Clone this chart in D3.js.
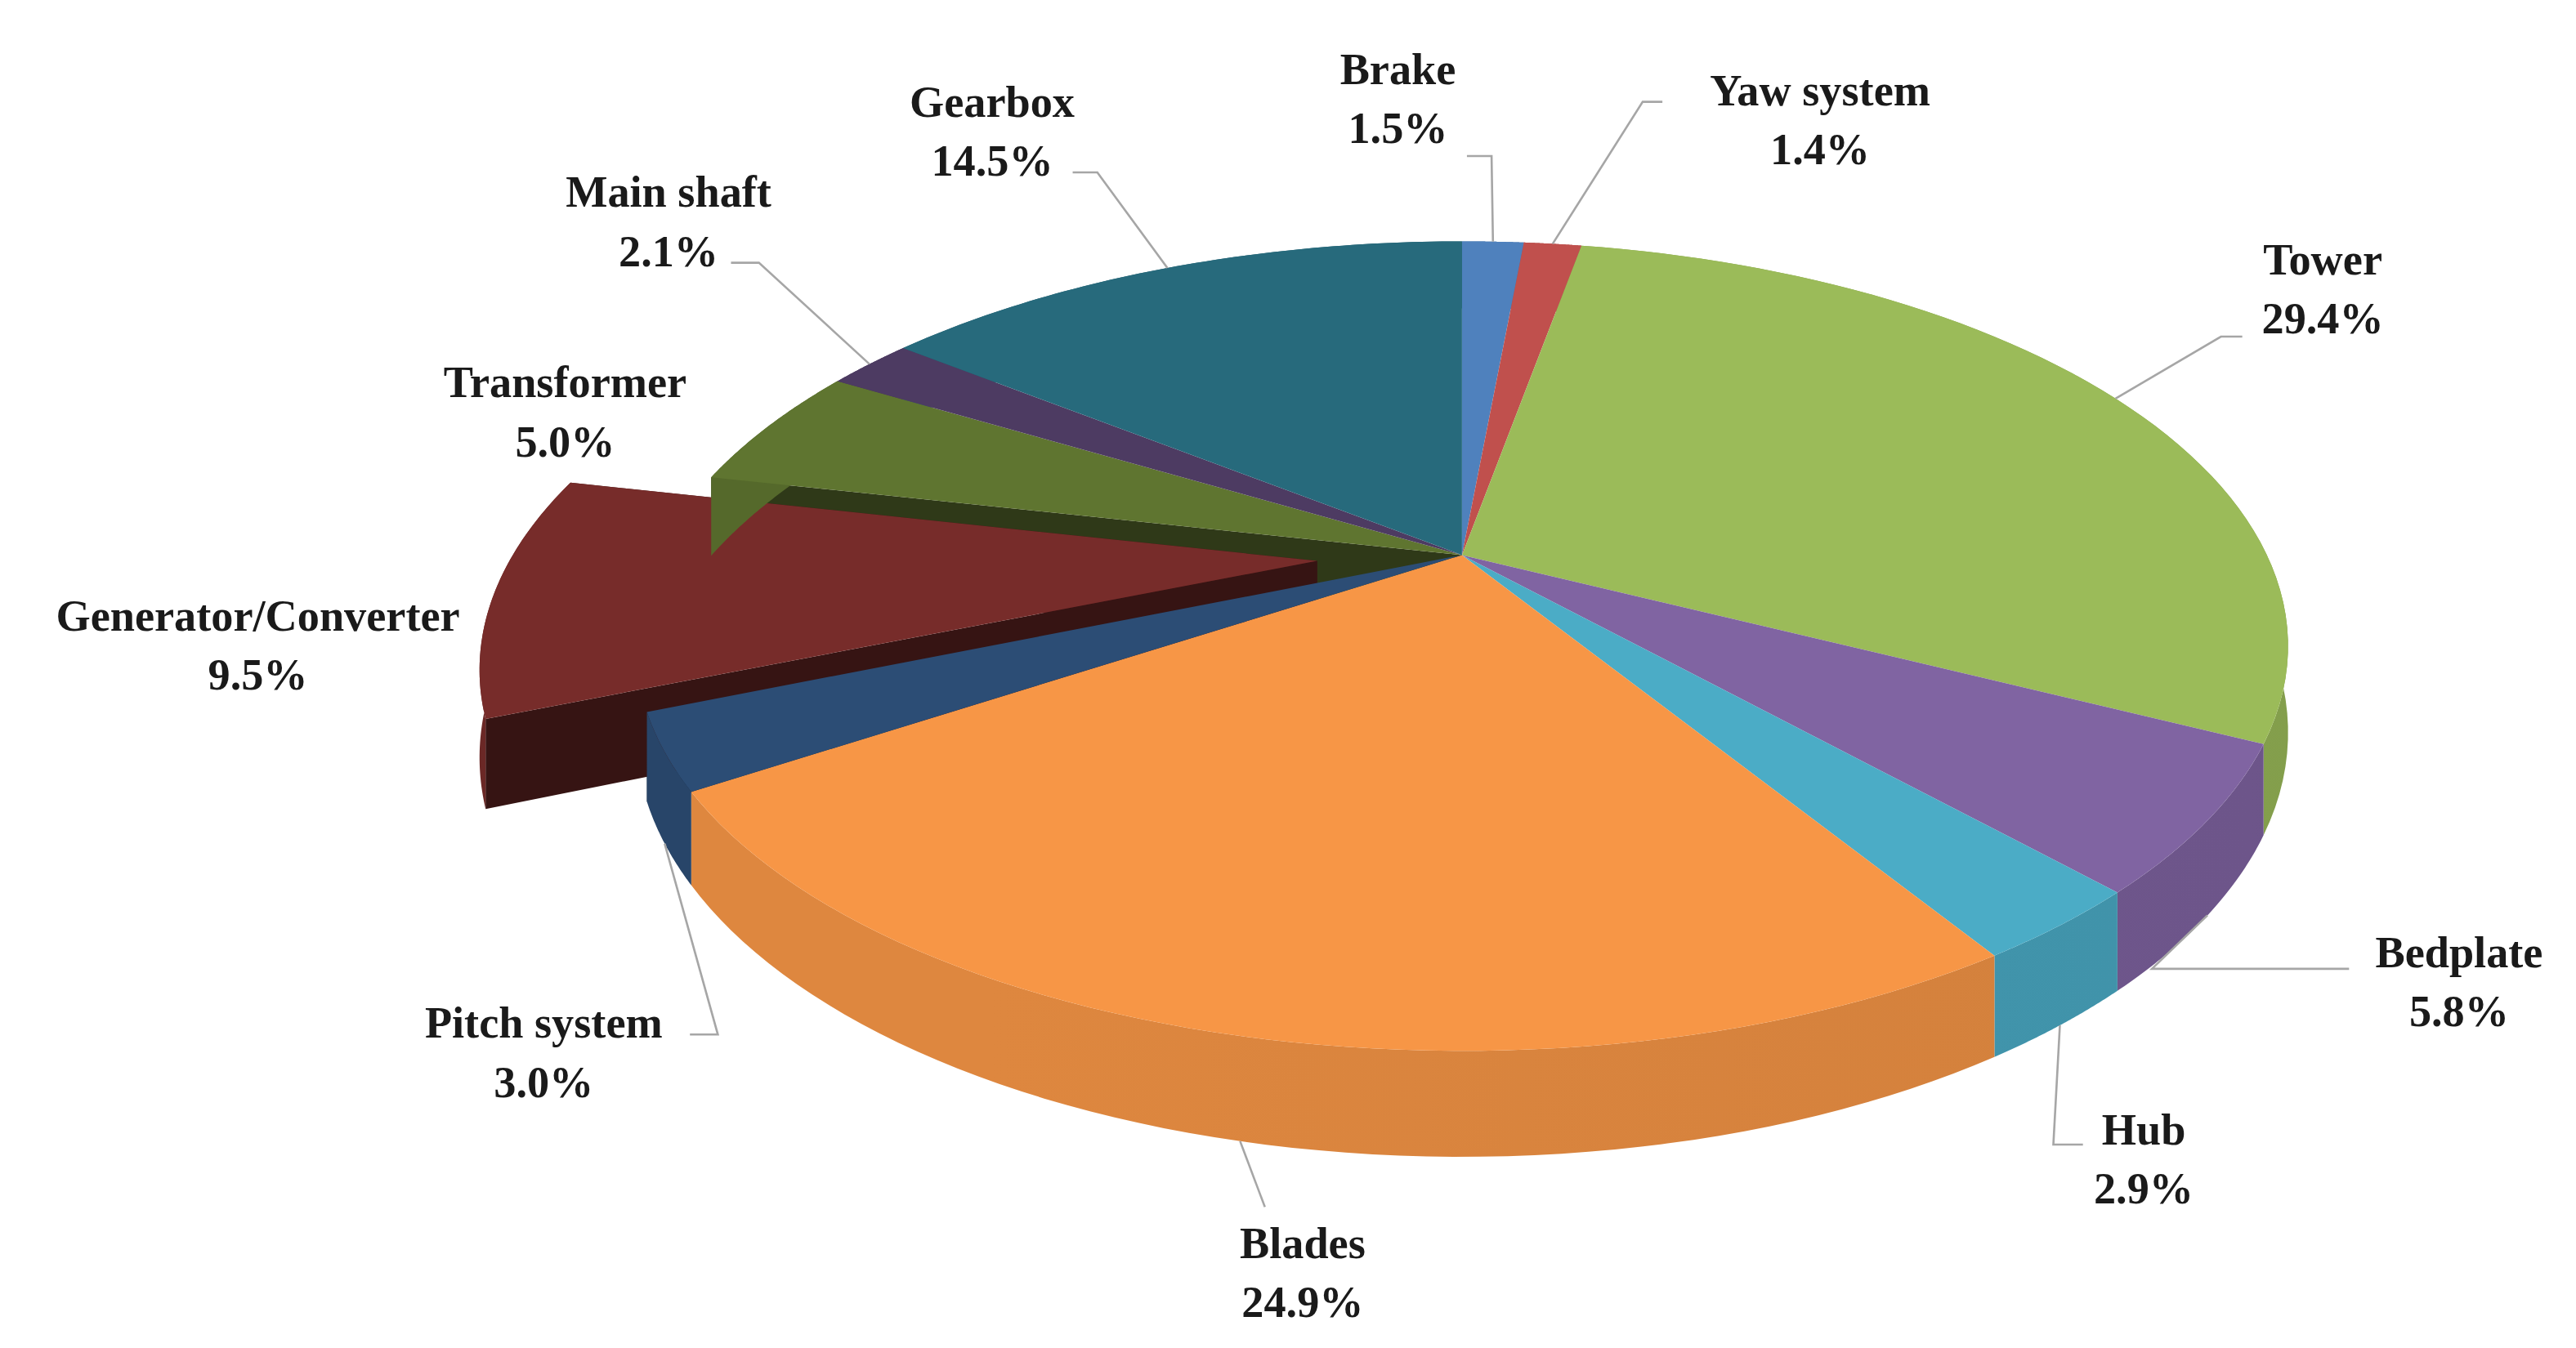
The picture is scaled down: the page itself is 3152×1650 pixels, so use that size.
<!DOCTYPE html>
<html><head><meta charset="utf-8">
<script src="https://cdn.jsdelivr.net/npm/d3@7"></script>
<style>html,body{margin:0;background:#fff;}</style>
</head><body>
<svg id="chart" width="3152" height="1650"></svg>
<script>
// data
const categories = ['Brake','Yaw system','Tower','Bedplate','Hub','Blades','Pitch system','Generator/Converter','Transformer','Main shaft','Gearbox'];
const shares = [1.5, 1.4, 29.4, 5.8, 2.9, 24.9, 3.0, 9.5, 5.0, 2.1, 14.5];
const colors = ['#4F81BD','#C0504D','#9BBB59','#8064A2','#4BACC6','#F79646','#2C4D75','#772C2A','#5F7530','#4D3B62','#276A7C'];
const exploded = 'Generator/Converter';

// label layout (display units): text centre, leader elbow and end
const layout = {
  'Brake': {x: 851, y: 42, line: [[893, 95], [908, 95]]},
  'Yaw system': {x: 1108, y: 55, line: [[1012, 62], [1000, 62]]},
  'Tower': {x: 1414, y: 158, line: [[1365, 205], [1352, 205]]},
  'Bedplate': {x: 1497, y: 580, line: [[1430, 590], [1310, 590]]},
  'Hub': {x: 1305, y: 688, line: [[1268, 697], [1250, 697]]},
  'Blades': {x: 793, y: 757, line: [[770, 735], [770, 735]]},
  'Pitch system': {x: 331, y: 623, line: [[420, 630], [437, 630]]},
  'Generator/Converter': {x: 157, y: 375, line: null},
  'Transformer': {x: 344, y: 233, line: null},
  'Main shaft': {x: 407, y: 117, line: [[445, 160], [462, 160]]},
  'Gearbox': {x: 604, y: 62, line: [[653, 105], [668, 105]]}
};

const S = 2.01;
const cx = 890, cy = 338, rx = 490, k = 234, p = 0.225, h0 = 50, explode = 0.18;

const svg = d3.select('#chart');
const g = svg.append('g').attr('transform', `scale(${S})`);
const defs = svg.append('defs');

// perspective projection of a point on the unit disc (u right, v towards viewer)
function proj(u, v, down) {
  const w = 1 / (1 - p * v);
  return [cx + rx * u * w, cy + k * v * w + (down ? h0 * w : 0)];
}
const pt = (a, r, off, down) => proj(off[0] + r * Math.sin(a), off[1] - r * Math.cos(a), down);

const pie = d3.pie().value(d => d).sort(null).startAngle(0).endAngle(2 * Math.PI);
const arcs = pie(shares).map((a, i) => {
  const mid = (a.startAngle + a.endAngle) / 2;
  const ex = categories[i] === exploded;
  return {i, a0: a.startAngle, a1: a.endAngle, mid, name: categories[i], color: colors[i],
    off: ex ? [explode * Math.sin(mid), -explode * Math.cos(mid)] : [0, 0], ex};
});

const line = d3.line();
const samples = (a0, a1) => d3.range(0, 1.0001, 1 / 60).map(t => a0 + (a1 - a0) * t);

// gradients for walls
arcs.forEach(d => {
  const c = d3.color(d.color);
  const gr = defs.append('linearGradient').attr('id', 'wall' + d.i)
    .attr('gradientUnits', 'userSpaceOnUse').attr('x1', S * 300).attr('x2', S * 1390).attr('y1', 0).attr('y2', 0);
  gr.append('stop').attr('offset', 0).attr('stop-color', c.darker(0.3));
  gr.append('stop').attr('offset', 0.35).attr('stop-color', c.darker(0.45));
  gr.append('stop').attr('offset', 1).attr('stop-color', c.darker(1.6));
});

const topPath = d => {
  const pts = [pt(0, 0, d.off, false)].concat(samples(d.a0, d.a1).map(a => pt(a, 1, d.off, false)));
  return line(pts) + 'Z';
};
const wallPath = d => {
  const s = samples(d.a0, d.a1);
  const pts = s.map(a => pt(a, 1, d.off, false)).concat(s.reverse().map(a => pt(a, 1, d.off, true)));
  return line(pts) + 'Z';
};
const radialPath = (a, off) => line([pt(0, 0, off, false), pt(a, 1, off, false), pt(a, 1, off, true), pt(0, 0, off, true)]) + 'Z';

const ex = arcs.find(d => d.ex);
const main = arcs.filter(d => !d.ex);

// radial walls of the main body exposed by the gap
const prev = arcs[ex.i - 1], next = arcs[ex.i + 1];
g.append('path').attr('d', radialPath(ex.a0, [0, 0])).attr('fill', d3.color(prev.color).darker(1.8));
g.append('path').attr('d', radialPath(ex.a1, [0, 0])).attr('fill', d3.color(next.color).darker(2));

// exploded slice
g.append('path').attr('d', radialPath(ex.a1, ex.off)).attr('fill', d3.color(ex.color).darker(1.8));
g.append('path').attr('d', radialPath(ex.a0, ex.off)).attr('fill', d3.color(ex.color).darker(2.2));
g.append('path').attr('d', wallPath(ex)).attr('fill', `url(#wall${ex.i})`);
g.append('path').attr('d', topPath(ex)).attr('fill', ex.color);

// main body
g.selectAll('path.wall').data(main).join('path').attr('class', 'wall')
  .attr('d', wallPath).attr('fill', d => `url(#wall${d.i})`);
g.selectAll('path.top').data(main).join('path').attr('class', 'top')
  .attr('d', topPath).attr('fill', d => d.color);

// leader lines and labels
arcs.forEach(d => {
  const L = layout[d.name];
  if (L.line) {
    const front = -Math.cos(d.mid) > 0.3;
    const anchor = pt(d.mid, 1, d.off, front);
    g.append('path').attr('fill', 'none').attr('stroke', '#a6a6a6').attr('stroke-width', 1.3)
      .attr('d', line([L.line[0], L.line[1], anchor]));
  }
  const t = g.append('text').attr('text-anchor', 'middle')
    .attr('font-family', '"Times New Roman","Liberation Serif",serif')
    .attr('font-weight', 'bold').attr('font-size', 27).attr('fill', '#1a1a1a');
  t.append('tspan').attr('x', L.x).attr('y', L.y + 9).text(d.name);
  t.append('tspan').attr('x', L.x).attr('y', L.y + 45).text(shares[d.i].toFixed(1) + '%');
});
</script>
</body></html>
